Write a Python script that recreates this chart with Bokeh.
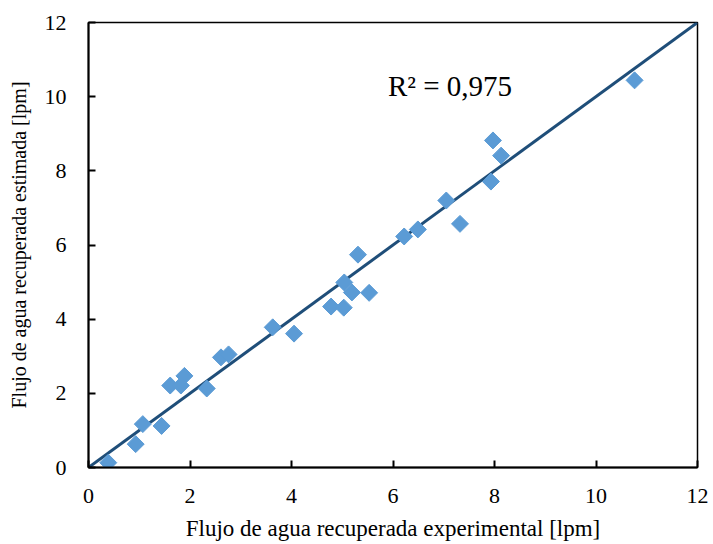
import numpy as np
from bokeh.plotting import figure
from bokeh.models import FixedTicker, Range1d, ColumnDataSource, Label
from bokeh.embed import file_html
from bokeh.resources import INLINE

# Data
exp_flow = [0.39, 0.93, 1.07, 1.44, 1.61, 1.82, 1.89, 2.33, 2.61, 2.76, 3.63, 4.05, 4.78,
            5.03, 5.04, 5.19, 5.31, 5.53, 6.22, 6.49, 7.05, 7.32, 7.93, 7.97, 8.13, 10.76]
est_flow = [0.13, 0.63, 1.17, 1.12, 2.21, 2.21, 2.47, 2.13, 2.97, 3.05, 3.78, 3.61, 4.34,
            4.31, 4.99, 4.72, 5.74, 4.71, 6.23, 6.42, 7.20, 6.57, 7.71, 8.82, 8.41, 10.44]
trend_x = [0, 12]
trend_y = [0, 12]
tick_values = [0, 2, 4, 6, 8, 10, 12]
r2_text = "R\u00b2 = 0,975"
x_title = "Flujo de agua recuperada experimental [lpm]"
y_title = "Flujo de agua recuperada estimada [lpm]"

FONT = "Liberation Serif"

p = figure(width=713, height=544, output_backend="svg", toolbar_location=None,
           x_range=Range1d(0, 12), y_range=Range1d(0, 12),
           min_border_left=88, min_border_right=16, min_border_top=22, min_border_bottom=77)

p.xgrid.visible = False
p.ygrid.visible = False
p.outline_line_color = "black"
p.outline_line_width = 1.5
p.background_fill_color = "white"
p.border_fill_color = "white"

src = ColumnDataSource(dict(x=exp_flow, y=est_flow))
p.line(trend_x, trend_y, line_color="#1F4E79", line_width=3)
p.scatter("x", "y", source=src, marker="square", angle=np.pi / 4, size=12,
          fill_color="#5B9BD5", line_color="#5B9BD5")

p.add_layout(Label(x=5.9, y=10.3, text=r2_text, text_font=FONT, text_font_size="29px",
                   text_baseline="middle", text_align="left", text_color="black"))

for ax in (p.xaxis[0], p.yaxis[0]):
    ax.ticker = FixedTicker(ticks=tick_values)
    ax.major_tick_in = 7
    ax.major_tick_out = 0
    ax.minor_tick_in = 0
    ax.minor_tick_out = 0
    ax.axis_line_color = "black"
    ax.axis_line_width = 2
    ax.major_tick_line_color = "black"
    ax.major_tick_line_width = 2
    ax.major_label_text_font = "serif"
    ax.major_label_text_font_size = "22px"
    ax.major_label_text_color = "black"
    ax.axis_label_text_font = FONT
    ax.axis_label_text_font_style = "normal"
    ax.axis_label_text_color = "black"

p.xaxis[0].axis_label = x_title
p.xaxis[0].axis_label_text_font_size = "23px"
p.xaxis[0].major_label_standoff = 21
p.xaxis[0].axis_label_standoff = 10
p.yaxis[0].axis_label = y_title
p.yaxis[0].axis_label_text_font_size = "20px"
p.yaxis[0].major_label_standoff = 22
p.yaxis[0].axis_label_standoff = 12

open("out.html", "w").write(file_html(p, INLINE))
